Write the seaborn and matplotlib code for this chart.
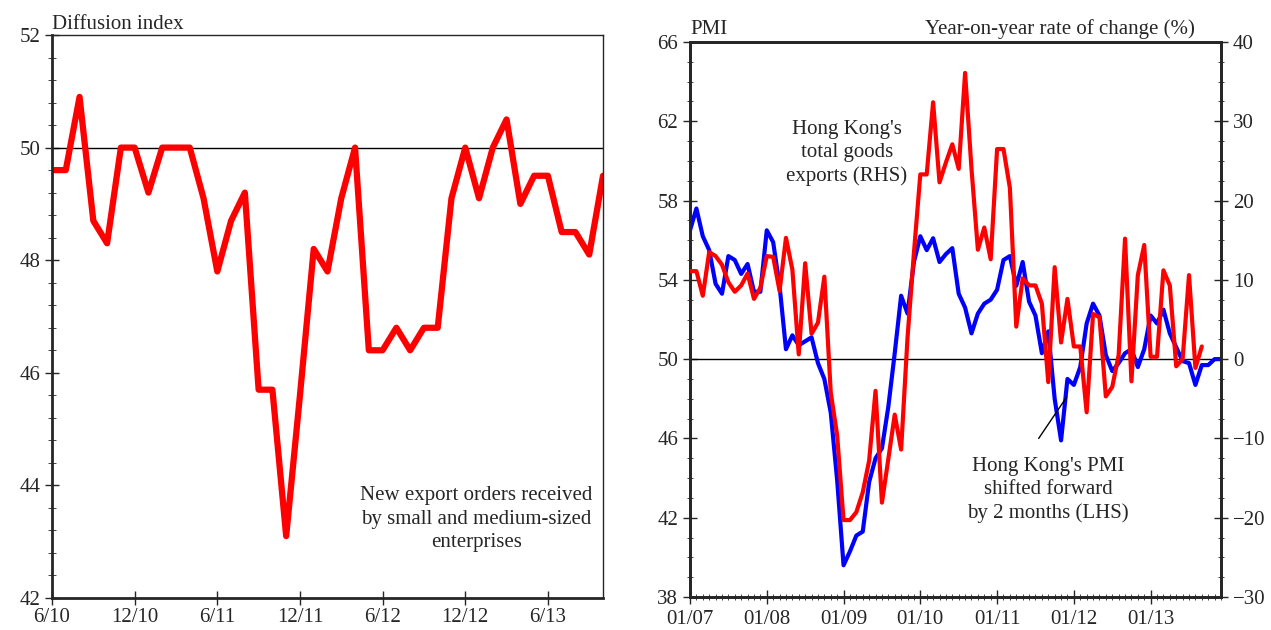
import numpy as np
import pandas as pd
import matplotlib
matplotlib.use("Agg")
import matplotlib.pyplot as plt
from matplotlib.ticker import MultipleLocator
import seaborn as sns

sns.set_style("ticks")
plt.rcParams['font.family'] = ['Liberation Serif', 'DejaVu Serif']

# left panel: SME new export orders diffusion index, monthly from 6/10
sme_index = [49.6, 49.6, 50.9, 48.7, 48.3, 50, 50, 49.2, 50, 50, 50, 49.1, 47.8, 48.7,
             49.2, 45.7, 45.7, 43.1, 45.6, 48.2, 47.8, 49.1, 50, 46.4, 46.4, 46.8, 46.4,
             46.8, 46.8, 49.1, 50, 49.1, 50, 50.5, 49, 49.5, 49.5, 48.5, 48.5, 48.1, 49.5]
sme_ticklabels = ["6/10", "12/10", "6/11", "12/11", "6/12", "12/12", "6/13"]

# right panel: PMI (shifted forward 2 months) and total exports yoy %, monthly from 01/07
pmi = [56.5, 57.6, 56.2, 55.5, 53.8, 53.3, 55.2, 55.0, 54.3, 54.8, 53.4, 53.4, 56.5, 55.9,
       53.7, 50.5, 51.2, 50.7, 50.9, 51.1, 49.8, 49.0, 47.3, 43.9, 39.6, 40.3, 41.1, 41.3,
       43.8, 45.0, 45.5, 47.6, 50.3, 53.2, 52.3, 54.9, 56.2, 55.5, 56.1, 54.9, 55.3, 55.6,
       53.3, 52.6, 51.3, 52.3, 52.8, 53.0, 53.5, 55.0, 55.2, 53.7, 54.9, 52.9, 52.2, 50.3,
       51.4, 48.0, 45.9, 49.0, 48.7, 49.6, 51.8, 52.8, 52.2, 50.2, 49.4, 49.8, 50.3, 50.5,
       49.6, 50.5, 52.2, 51.8, 52.5, 51.3, 50.6, 49.9, 49.8, 48.7, 49.7, 49.7, 50.0, 50.0]
exports = [11.1, 11.1, 8.0, 13.5, 13.0, 11.9, 9.7, 8.5, 9.3, 10.8, 7.6, 9.0, 13.0, 12.9,
           8.6, 15.3, 11.3, 0.6, 12.1, 3.2, 4.6, 10.4, -4.2, -9.6, -20.3, -20.3, -19.3,
           -16.8, -12.8, -4.0, -18.1, -12.6, -7.0, -11.4, 2.7, 13.4, 23.3, 23.3, 32.4, 22.3,
           24.8, 27.1, 24.0, 36.1, 24.0,
           13.8, 16.6, 12.6, 26.5, 26.5, 21.6, 4.1, 10.2, 9.3, 9.3, 7.0, -2.9, 11.6, 2.1,
           7.6, 1.6, 1.6, -6.7, 5.7, 5.3, -4.7, -3.5, 0.5, 15.2, -2.8, 10.6, 14.4, 0.3, 0.3,
           11.2, 9.3, -0.9, 0.0, 10.6, -1.1, 1.6]
hk_ticklabels = ["01/07", "01/08", "01/09", "01/10", "01/11", "01/12", "01/13"]

df_sme = pd.DataFrame({"month": np.arange(len(sme_index)), "value": sme_index})
df_pmi = pd.DataFrame({"month": np.arange(len(pmi)), "value": pmi})
df_exp = pd.DataFrame({"month": np.arange(len(exports)), "value": exports})

fig = plt.figure(figsize=(12.71, 6.30), dpi=100)
ax1 = fig.add_axes([52 / 1271, 32 / 630, 551 / 1271, 563 / 630])
ax2 = fig.add_axes([690 / 1271, 33 / 630, 531 / 1271, 555 / 630])

# ---- left panel
ax1.axhline(50, color="black", lw=1)
sns.lineplot(data=df_sme, x="month", y="value", ax=ax1, color="#ff0000", lw=4.5)
ax1.set_xlim(0, len(sme_index) - 1)
ax1.set_ylim(42, 52)
ax1.yaxis.set_major_locator(MultipleLocator(2))
ax1.yaxis.set_minor_locator(MultipleLocator(0.4))
ax1.set_xticks(np.arange(0, len(sme_index), 6))
ax1.set_xticklabels(sme_ticklabels)
ax1.set_xlabel("")
ax1.set_ylabel("")
ax1.tick_params(axis="both", direction="inout", labelsize=15, length=10, width=1)
ax1.tick_params(axis="y", which="minor", direction="inout", length=6)
ax1.tick_params(axis="x", pad=2)
for s in ax1.spines.values():
    s.set_visible(True)
    s.set_linewidth(1)
ax1.spines["left"].set_linewidth(2)
ax1.spines["bottom"].set_linewidth(2)
ax1.text(0, 1.002, "Diffusion index", transform=ax1.transAxes, fontsize=15, va="bottom")
ax1.text(0.77, 0.14, "New export orders received\nby small and medium-sized\nenterprises",
         transform=ax1.transAxes, fontsize=15, ha="center", va="center", linespacing=1.3)

# ---- right panel
ax2.axhline(50, color="black", lw=1)
sns.lineplot(data=df_pmi, x="month", y="value", ax=ax2, color="#0000ff", lw=3, zorder=3)
ax2.set_xlim(0, len(pmi) - 1)
ax2.set_ylim(38, 66)
ax2.set_yticks(np.arange(38, 67, 4))
ax2.yaxis.set_minor_locator(MultipleLocator(1))
ax2.set_xticks(np.arange(0, 84, 12))
ax2.set_xticklabels(hk_ticklabels)
ax2.xaxis.set_minor_locator(MultipleLocator(1))
ax2.set_xlabel("")
ax2.set_ylabel("")

ax3 = ax2.twinx()
sns.lineplot(data=df_exp, x="month", y="value", ax=ax3, color="#ff0000", lw=3, zorder=4)
ax3.set_ylim(-30, 40)
ax3.yaxis.set_major_locator(MultipleLocator(10))
ax3.yaxis.set_minor_locator(MultipleLocator(2.5))
ax3.set_ylabel("")
ax3.set_xlim(0, len(pmi) - 1)

for a in (ax2, ax3):
    a.tick_params(axis="both", direction="inout", labelsize=15, length=10, width=1)
    a.tick_params(axis="both", which="minor", direction="inout", length=5)
    for s in a.spines.values():
        s.set_visible(True)
        s.set_linewidth(2)
ax2.tick_params(axis="x", pad=4)

ax2.text(0.0, 1.005, "PMI", transform=ax2.transAxes, fontsize=15, va="bottom")
ax2.text(0.95, 1.005, "Year-on-year rate of change (%)", transform=ax2.transAxes,
         fontsize=15, va="bottom", ha="right")
ax3.text(24.5, 26, "Hong Kong's\ntotal goods\nexports (RHS)", fontsize=15, ha="center",
         va="center", linespacing=1.3)
ax2.annotate("", xy=(58.9, 48.1), xytext=(54.5, 46.0),
             arrowprops=dict(arrowstyle="-", color="black", lw=1, shrinkA=0, shrinkB=0))
ax2.text(56, 43.4, "Hong Kong's PMI\nshifted forward\nby 2 months (LHS)", fontsize=15,
         ha="center", va="center", linespacing=1.3)

fig.savefig("out.png", dpi=100)
